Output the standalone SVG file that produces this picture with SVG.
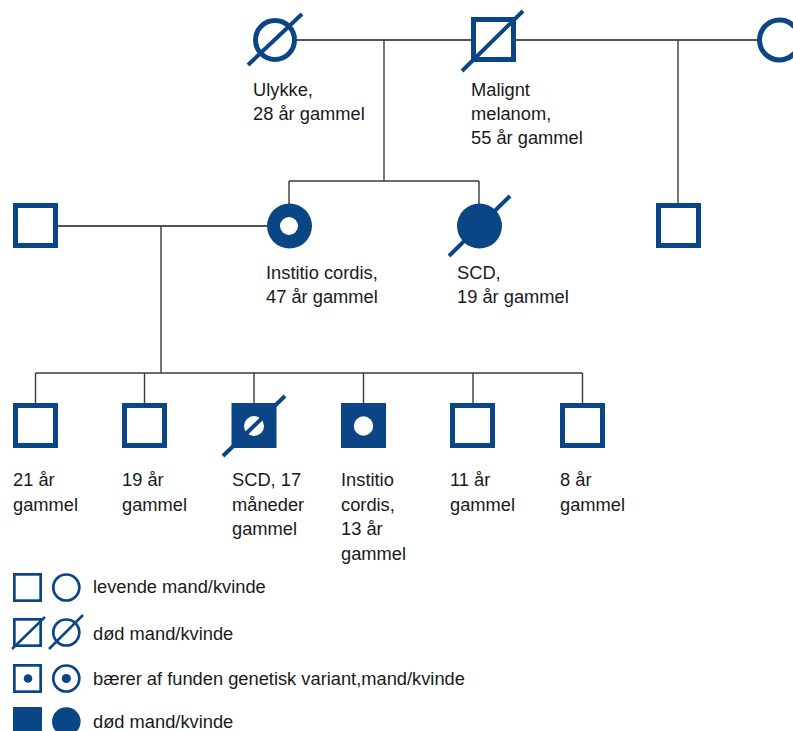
<svg xmlns="http://www.w3.org/2000/svg" width="793" height="731" viewBox="0 0 793 731">
<style>
.bg{fill:#ffffff}
.sym{fill:#ffffff;stroke:#0a4585;stroke-width:5}
.fill{fill:#0a4585;stroke:none}
.hole{fill:#ffffff;stroke:none}
.slash{stroke:#0a4585;stroke-width:4;stroke-linecap:butt}
.lsym{fill:#ffffff;stroke:#0a4585;stroke-width:2.7}
.lslash{stroke:#0a4585;stroke-width:2.5}
.con{stroke:#3a3a3a;stroke-width:1.4;fill:none}
.rel{stroke:#555555;stroke-width:1.8;fill:none}
text{font-family:"Liberation Sans",Arial,sans-serif;font-size:18.3px;fill:#1a1a1a}
</style>
<rect class="bg" x="0" y="0" width="793" height="731"/>
<g id="connectors">
  <line class="rel" x1="297" y1="40" x2="760" y2="40"/>
  <line class="con" x1="384" y1="40" x2="384" y2="181"/>
  <line class="con" x1="289" y1="181" x2="479" y2="181"/>
  <line class="con" x1="289" y1="181" x2="289" y2="204"/>
  <line class="con" x1="479" y1="181" x2="479" y2="204"/>
  <line class="con" x1="678" y1="40" x2="678" y2="204"/>
  <line class="rel" x1="58" y1="226" x2="268" y2="226"/>
  <line class="con" x1="161" y1="226" x2="161" y2="373"/>
  <line class="con" x1="35.5" y1="373" x2="582.5" y2="373"/>
  <line class="con" x1="35.5" y1="373" x2="35.5" y2="404"/>
  <line class="con" x1="144.5" y1="373" x2="144.5" y2="404"/>
  <line class="con" x1="254" y1="373" x2="254" y2="404"/>
  <line class="con" x1="363.5" y1="373" x2="363.5" y2="404"/>
  <line class="con" x1="473" y1="373" x2="473" y2="404"/>
  <line class="con" x1="582.5" y1="373" x2="582.5" y2="404"/>
</g>
<g id="gf-ulykke">
  <circle class="sym" cx="275" cy="40" r="19.5"/>
  <line class="slash" x1="248" y1="65" x2="302" y2="14"/>
  <text x="253" y="96">Ulykke,</text>
  <text x="253" y="120">28 år gammel</text>
</g>
<g id="gf-melanom">
  <rect class="sym" x="473.5" y="19.5" width="40" height="40"/>
  <line class="slash" x1="462" y1="71" x2="523" y2="11"/>
  <text x="471" y="96">Malignt</text>
  <text x="471" y="120">melanom,</text>
  <text x="471" y="144">55 år gammel</text>
</g>
<g id="gm-right">
  <circle class="sym" cx="779.5" cy="40" r="20"/>
</g>
<g id="father">
  <rect class="sym" x="15.5" y="205.5" width="40" height="40"/>
</g>
<g id="mother">
  <circle class="fill" cx="289.5" cy="226" r="22.5"/>
  <circle class="hole" cx="289" cy="226" r="9"/>
  <text x="266" y="279">Institio cordis,</text>
  <text x="266" y="303">47 år gammel</text>
</g>
<g id="aunt-scd">
  <circle class="fill" cx="479.5" cy="226" r="22.5"/>
  <line class="slash" x1="449" y1="256" x2="510" y2="196"/>
  <text x="457" y="279">SCD,</text>
  <text x="457" y="303">19 år gammel</text>
</g>
<g id="uncle">
  <rect class="sym" x="658.5" y="205.5" width="40" height="40"/>
</g>
<g id="child1">
  <rect class="sym" x="15.5" y="405.5" width="40" height="40"/>
  <text x="13" y="486">21 år</text>
  <text x="13" y="511">gammel</text>
</g>
<g id="child2">
  <rect class="sym" x="124.5" y="405.5" width="40" height="40"/>
  <text x="122" y="486">19 år</text>
  <text x="122" y="511">gammel</text>
</g>
<g id="child3">
  <rect class="fill" x="231.5" y="403" width="45" height="45"/>
  <circle class="hole" cx="254" cy="426" r="10"/>
  <line class="slash" x1="223" y1="456" x2="285" y2="396"/>
  <text x="232" y="486">SCD, 17</text>
  <text x="232" y="511">måneder</text>
  <text x="232" y="535">gammel</text>
</g>
<g id="child4">
  <rect class="fill" x="341" y="403" width="45" height="45"/>
  <circle class="hole" cx="363.5" cy="426" r="9.7"/>
  <text x="341" y="486">Institio</text>
  <text x="341" y="511">cordis,</text>
  <text x="341" y="535">13 år</text>
  <text x="341" y="560">gammel</text>
</g>
<g id="child5">
  <rect class="sym" x="452.5" y="405.5" width="40" height="40"/>
  <text x="450" y="486">11 år</text>
  <text x="450" y="511">gammel</text>
</g>
<g id="child6">
  <rect class="sym" x="562.5" y="405.5" width="40" height="40"/>
  <text x="560" y="486">8 år</text>
  <text x="560" y="511">gammel</text>
</g>
<g id="legend">
  <rect class="lsym" x="14.35" y="574.35" width="26.3" height="26.3"/>
  <circle class="lsym" cx="66.3" cy="587.5" r="13"/>
  <text x="93" y="593">levende mand/kvinde</text>
  <rect class="lsym" x="14.35" y="619.35" width="26.3" height="26.3"/>
  <line class="lslash" x1="12" y1="649" x2="45" y2="617"/>
  <circle class="lsym" cx="66.3" cy="632.5" r="13"/>
  <line class="lslash" x1="49" y1="649" x2="83" y2="615"/>
  <text x="93" y="640">død mand/kvinde</text>
  <rect class="lsym" x="14.35" y="665.35" width="26.3" height="26.3"/>
  <circle class="fill" cx="28" cy="678.5" r="4.3"/>
  <circle class="lsym" cx="66.3" cy="678.5" r="13"/>
  <circle class="fill" cx="66.3" cy="678.5" r="4.6"/>
  <text x="93" y="685">bærer af funden genetisk variant,mand/kvinde</text>
  <rect class="fill" x="13" y="707" width="29" height="29"/>
  <circle class="fill" cx="66.3" cy="721.5" r="14.3"/>
  <text x="93" y="728">død mand/kvinde</text>
</g>
</svg>
